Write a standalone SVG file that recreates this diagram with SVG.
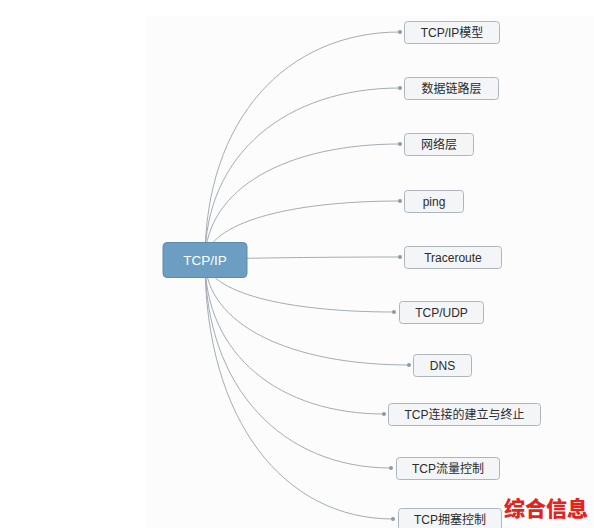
<svg xmlns="http://www.w3.org/2000/svg" width="594" height="528" viewBox="0 0 594 528">
<style>
.link{fill:none;stroke:#a3adb3;stroke-width:1}
.dot{fill:#8d9aa3}
.box{fill:#f3f5f7;stroke:#adb6bc;stroke-width:1}
.lbl{font-family:"Liberation Sans","Noto Sans CJK SC",sans-serif;font-size:12px;fill:#2b2b2b;text-anchor:middle;dominant-baseline:central}
.root{fill:#6b9ec1;stroke:#5b8db0;stroke-width:1}
.rootlbl{font-family:"Liberation Sans","Noto Sans CJK SC",sans-serif;font-size:13.5px;fill:#ffffff;text-anchor:middle;dominant-baseline:central}
.wm{font-family:"Noto Sans CJK SC",sans-serif;font-size:21px;font-weight:900;fill:#e3231c}
</style>
<rect x="0" y="0" width="594" height="528" fill="#ffffff"/>
<rect x="145" y="16" width="449" height="512" fill="#fcfcfc"/>
<g id="connectors">
<path class="link" d="M205,260 C205,118.6 286.9,32 400,32"/>
<path class="link" d="M205,260 C205,153.4 286.9,88 400,88"/>
<path class="link" d="M205,260 C206,188.1 286.9,144 400,144"/>
<path class="link" d="M205,260 C208,223.4 286.9,201 400,201"/>
<path class="link" d="M205,259 C240,258.5 300,257 400,257"/>
<path class="link" d="M205,260 C208,292.2 284.4,312 394,312"/>
<path class="link" d="M205,260 C206,325.1 290.7,365 409,365"/>
<path class="link" d="M205,260 C205,355.5 280.2,414 384,414"/>
<path class="link" d="M205,260 C205,389 283.1,468 391,468"/>
<path class="link" d="M205,260 C205,420.6 284,519 393,519"/>
<circle class="dot" cx="400" cy="32" r="2"/>
<circle class="dot" cx="400" cy="88" r="2"/>
<circle class="dot" cx="400" cy="144" r="2"/>
<circle class="dot" cx="400" cy="201" r="2"/>
<circle class="dot" cx="400" cy="257" r="2"/>
<circle class="dot" cx="394" cy="312" r="2"/>
<circle class="dot" cx="409" cy="365" r="2"/>
<circle class="dot" cx="384" cy="414" r="2"/>
<circle class="dot" cx="391" cy="468" r="2"/>
<circle class="dot" cx="393" cy="519" r="2"/>
</g>
<g id="root">
<rect class="root" x="163" y="242.5" width="84" height="35" rx="4"/>
<text class="rootlbl" x="205" y="260">TCP/IP</text>
</g>
<g id="n1"><rect class="box" x="404.5" y="21.5" width="95" height="22" rx="3"/><text class="lbl" x="452" y="32.5">TCP/IP模型</text></g>
<g id="n2"><rect class="box" x="404.5" y="77.5" width="94" height="22" rx="3"/><text class="lbl" x="451.5" y="88.5">数据链路层</text></g>
<g id="n3"><rect class="box" x="404.5" y="133.5" width="69" height="22" rx="3"/><text class="lbl" x="439" y="144.5">网络层</text></g>
<g id="n4"><rect class="box" x="404.5" y="190.5" width="59" height="22" rx="3"/><text class="lbl" x="434" y="201.5">ping</text></g>
<g id="n5"><rect class="box" x="404.5" y="246.5" width="97" height="22" rx="3"/><text class="lbl" x="453" y="257.5">Traceroute</text></g>
<g id="n6"><rect class="box" x="399.5" y="301.5" width="84" height="22" rx="3"/><text class="lbl" x="441.5" y="312.5">TCP/UDP</text></g>
<g id="n7"><rect class="box" x="413.5" y="354.5" width="58" height="22" rx="3"/><text class="lbl" x="442.5" y="365.5">DNS</text></g>
<g id="n8"><rect class="box" x="388.5" y="403.5" width="152" height="22" rx="3"/><text class="lbl" x="464.5" y="414.5">TCP连接的建立与终止</text></g>
<g id="n9"><rect class="box" x="396.5" y="457.5" width="103" height="22" rx="3"/><text class="lbl" x="448" y="468.5">TCP流量控制</text></g>
<g id="n10"><rect class="box" x="398.5" y="508.5" width="103" height="22" rx="3"/><text class="lbl" x="450" y="519.5">TCP拥塞控制</text></g>
<text class="wm" x="504" y="516">综合信息</text>
</svg>
